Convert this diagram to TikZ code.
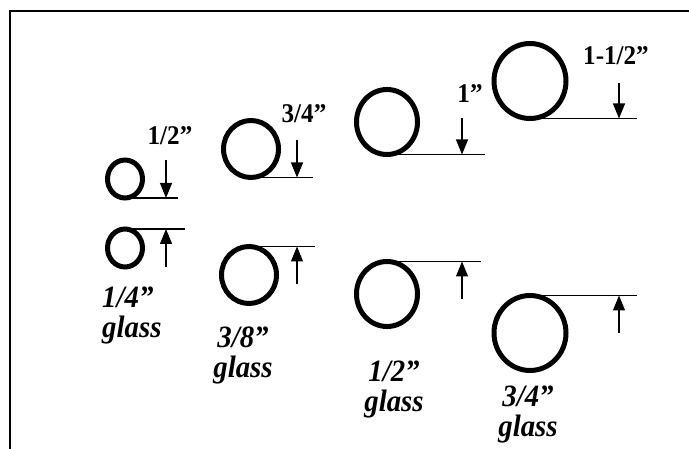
\documentclass[tikz,border=0pt]{standalone}
\usepackage{fontspec}
\setmainfont[FakeStretch=0.93]{Liberation Serif}
\usetikzlibrary{arrows.meta,positioning,shapes.geometric}

\begin{document}
\begin{tikzpicture}[x=1pt,y=-1pt,every node/.style={font=\fontsize{27}{29}\selectfont\bfseries,inner sep=0pt},tube/.style 2 args={draw,ellipse,line width=5pt,outer sep=0pt,minimum width=#1,minimum height=#2},dimline/.style={line width=1.2pt},dimarrow/.style={line width=1.2pt,-{Triangle[length=15pt,width=12pt]}},glasslbl/.style={font=\fontsize{31}{30}\selectfont\bfseries\itshape,align=center,anchor=north}]
\useasboundingbox (0,0) rectangle (689,449);
% frame
\draw[line width=2pt] (10,449) -- (10,11) -- (689,11);
% 1/4'' glass
\node[tube={35pt}{38pt}] (t1) at (125,179) {};
\node[tube={35pt}{38pt}] (g1) at (125,248) {};
\coordinate (t1a) at (166,160);
\coordinate (g1a) at (166,267);
\draw[dimline] (t1.south) -- ++(53,0);
\draw[dimline] (g1.north) -- ++(60,0);
\draw[dimarrow] (t1a) -- (t1a |- t1.south);
\draw[dimarrow] (g1a) -- (g1a |- g1.north);
\node[above=15pt of t1a,xshift=4pt] (t1lbl) {1/2''};
\node[glasslbl,align=left,anchor=north west] (g1lbl) at (102,287) {1/4''\\glass};
% 3/8'' glass
\node[tube={55pt}{57pt}] (t2) at (251,149) {};
\node[tube={55pt}{57pt}] (g2) at (249,275) {};
\coordinate (t2a) at (297,140);
\coordinate (g2a) at (297,284);
\draw[dimline] (t2.south) -- ++(62,0);
\draw[dimline] (g2.north) -- ++(66,0);
\draw[dimarrow] (t2a) -- (t2a |- t2.south);
\draw[dimarrow] (g2a) -- (g2a |- g2.north);
\node[above=17pt of t2a,xshift=7pt] (t2lbl) {3/4''};
\node[glasslbl] (g2lbl) at (243,327) {3/8''\\glass};
% 1/2'' glass
\node[tube={61pt}{65pt}] (t3) at (387,122) {};
\node[tube={61pt}{65pt}] (g3) at (387,294) {};
\coordinate (t3a) at (462,118);
\coordinate (g3a) at (462,299);
\draw[dimline] (t3.south) -- ++(98,0);
\draw[dimline] (g3.north) -- ++(94,0);
\draw[dimarrow] (t3a) -- (t3a |- t3.south);
\draw[dimarrow] (g3a) -- (g3a |- g3.north);
\node[above=15pt of t3a,xshift=8pt] (t3lbl) {1''};
\node[glasslbl] (g3lbl) at (394,361) {1/2''\\glass};
% 3/4'' glass
\node[tube={72pt}{75pt}] (t4) at (530,81) {};
\node[tube={72pt}{75pt}] (g4) at (530,333) {};
\coordinate (t4a) at (619,83);
\coordinate (g4a) at (619,333);
\draw[dimline] (t4.south) -- ++(107,0);
\draw[dimline] (g4.north) -- ++(107,0);
\draw[dimarrow] (t4a) -- (t4a |- t4.south);
\draw[dimarrow] (g4a) -- (g4a |- g4.north);
\node[above=18pt of t4a,xshift=-3pt] (t4lbl) {1-1/2''};
\node[glasslbl] (g4lbl) at (528,386) {3/4''\\glass};
\end{tikzpicture}
\end{document}
